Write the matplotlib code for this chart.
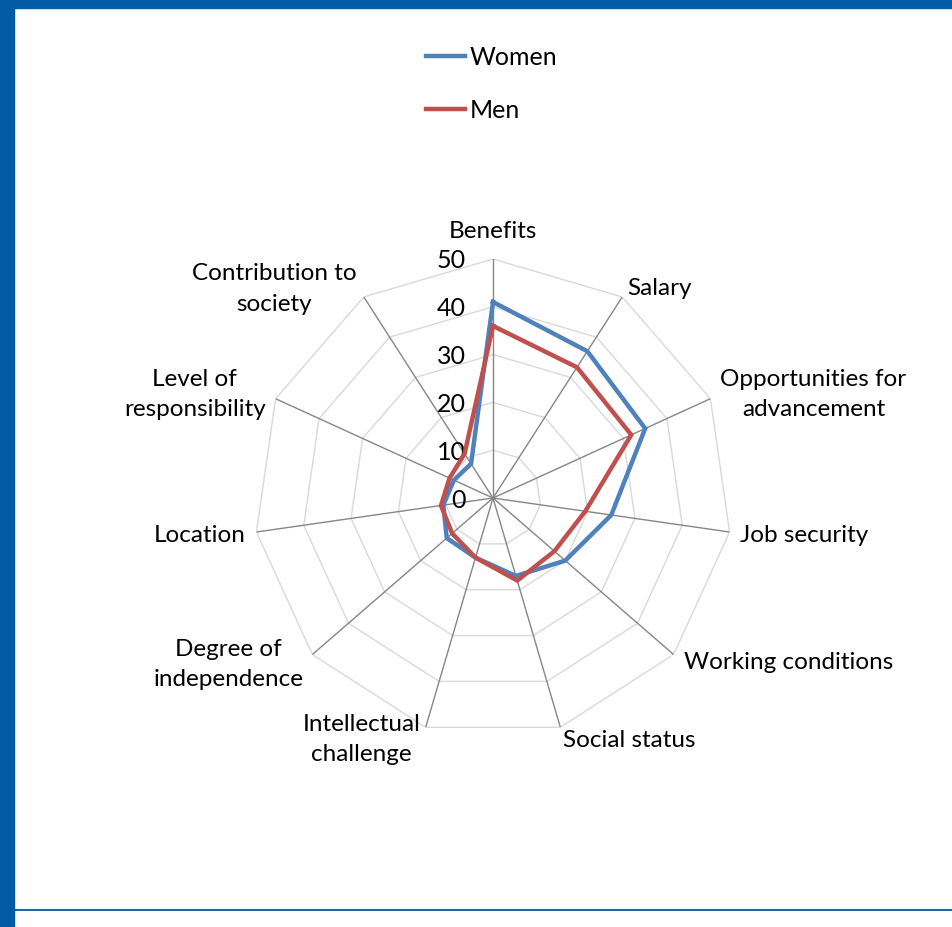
import numpy as np
import matplotlib
matplotlib.use("Agg")
import matplotlib.pyplot as plt
from matplotlib.patches import Rectangle
from matplotlib.lines import Line2D

plt.rcParams['font.family'] = ['Lato', 'DejaVu Sans']

# data (scale 0-50)
categories = ['Benefits', 'Salary', 'Opportunities for\nadvancement', 'Job security',
              'Working conditions', 'Social status', 'Intellectual\nchallenge',
              'Degree of\nindependence', 'Location', 'Level of\nresponsibility',
              'Contribution to\nsociety']
women = [41, 36.5, 35, 25, 20, 17, 13, 12.8, 10.5, 9, 8.5]
men = [36, 32.5, 31.8, 19.5, 17, 18, 13, 11.3, 11, 10, 11]
rings = [10, 20, 30, 40, 50]
tick_vals = [0, 10, 20, 30, 40, 50]

# label placement (pixel offset from spoke end, horizontal alignment)
lab_off = [(0, 27, 'center'), (5, 8, 'left'), (10, 4, 'left'), (10, -3, 'left'),
           (10, -8, 'left'), (3, -13, 'left'), (-5, -12, 'right'), (-9, -10, 'right'),
           (-11, -3, 'right'), (-10, 4, 'right'), (-7, 8, 'right')]

blue = '#4f81bd'
red = '#c0504d'
frame_col = '#005ba4'

W, H = 952, 927
fig = plt.figure(figsize=(W / 100, H / 100), dpi=100)

cx, cy, R = 493, 498, 239
ax = fig.add_axes([(cx - R) / W, (H - cy - R) / H, 2 * R / W, 2 * R / H], projection='polar')
ax.set_theta_zero_location('N')
ax.set_theta_direction(-1)
ax.set_ylim(0, 50)
ax.grid(False)
ax.set_xticks([])
ax.set_yticks([])
ax.spines['polar'].set_visible(False)
ax.patch.set_alpha(0)

n = len(categories)
theta = np.arange(n) * 2 * np.pi / n
th_closed = np.append(theta, theta[0])

# polygon rings
for r in rings:
    ax.plot(th_closed, [r] * (n + 1), color='#d9d9d9', lw=1, zorder=1)
# spokes
for t in theta:
    ax.plot([t, t], [0, 50], color='#868686', lw=1, zorder=2)

ax.plot(th_closed, women + women[:1], color=blue, lw=3.2, zorder=4, label='Women',
        solid_joinstyle='miter')
ax.plot(th_closed, men + men[:1], color=red, lw=3.2, zorder=5, label='Men',
        solid_joinstyle='miter')

# radial tick labels
for v in tick_vals:
    ax.annotate(str(v), xy=(0, v), xytext=(-27, -2), textcoords='offset pixels',
                ha='right', va='center', fontsize=18, color='black')

# category labels
for t, lab, (dx, dy, ha) in zip(theta, categories, lab_off):
    ax.annotate(lab, xy=(t, 50), xytext=(dx, dy), textcoords='offset pixels',
                ha=ha, va='center', multialignment='center', fontsize=17.5,
                linespacing=1.55, color='black')

# legend
handles = [Line2D([], [], color=blue, lw=3.2), Line2D([], [], color=red, lw=3.2)]
fig.legend(handles, ['Women', 'Men'], loc='upper left',
           bbox_to_anchor=(426 / W, 1 - 46 / H), bbox_transform=fig.transFigure,
           frameon=False, fontsize=18, handlelength=1.55, handletextpad=0.2,
           labelspacing=1.18, borderpad=0, borderaxespad=0)

# frame decoration
fig.patches.append(Rectangle((0, 1 - 8 / H), 1, 8 / H, transform=fig.transFigure,
                             color=frame_col, zorder=10))
fig.patches.append(Rectangle((0, 0), 14 / W, 1, transform=fig.transFigure,
                             color=frame_col, zorder=10))
fig.add_artist(Line2D([14 / W, 1], [1 - 910 / H, 1 - 910 / H], transform=fig.transFigure,
                      color=frame_col, lw=1.3))

fig.savefig('out.png', dpi=100)
